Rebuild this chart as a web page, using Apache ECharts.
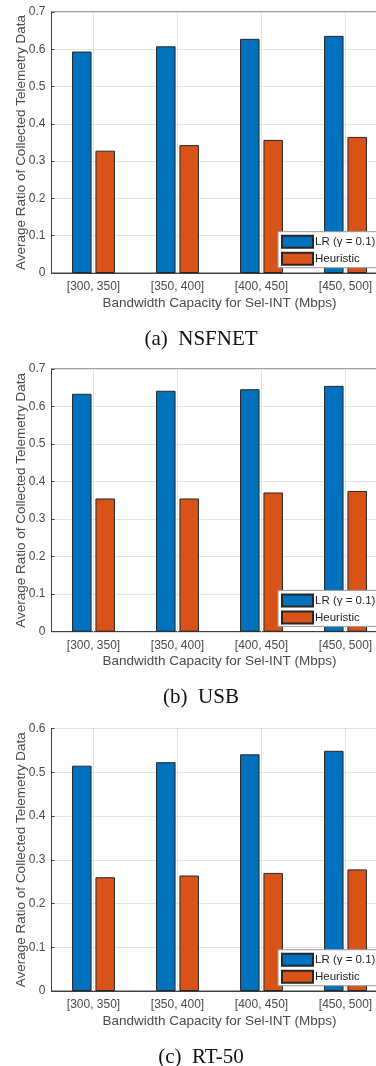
<!DOCTYPE html>
<html>
<head>
<meta charset="utf-8">
<script src="https://cdn.jsdelivr.net/npm/echarts@6/dist/echarts.min.js"></script>
<style>
html,body{margin:0;padding:0;background:#fff;}
#c{width:376px;height:1066px;}
</style>
</head>
<body>
<div id="c"></div>
<script>
const categories = ['[300, 350]', '[350, 400]', '[400, 450]', '[450, 500]'];
const seriesNames = ['LR (\u03b3 = 0.1)', 'Heuristic'];
const nsfnetLR = [0.594, 0.608, 0.628, 0.636];
const nsfnetHeuristic = [0.328, 0.343, 0.357, 0.365];
const usbLR = [0.634, 0.642, 0.646, 0.655];
const usbHeuristic = [0.355, 0.355, 0.371, 0.375];
const rt50LR = [0.515, 0.523, 0.541, 0.549];
const rt50Heuristic = [0.260, 0.264, 0.270, 0.278];
const yMax = [0.7, 0.7, 0.6];
const yInterval = 0.1;
const captions = ['(a)  NSFNET', '(b)  USB', '(c)  RT-50'];
const xTitle = 'Bandwidth Capacity for Sel-INT (Mbps)';
const yTitle = 'Average Ratio of Collected Telemetry Data';

const panels = [
  {lr: nsfnetLR, h: nsfnetHeuristic},
  {lr: usbLR, h: usbHeuristic},
  {lr: rt50LR, h: rt50Heuristic}
];
const gridTops = [12, 369, 728.5];
const gridHeights = [261, 262.7, 262.5];
const captionY = [339, 697, 1057];

const axisColor = '#404040';
const textColor = '#4a4a4a';
const gridColor = '#e3e3e3';
const blue = '#0072BD';
const orange = '#D95319';
const font = '"Liberation Sans", Arial, sans-serif';

const grid = [], xAxis = [], yAxis = [], series = [], legend = [], graphic = [];
panels.forEach((p, i) => {
  grid.push({left: 51.5, width: 336, top: gridTops[i], height: gridHeights[i],
    outerBoundsMode: 'none', containLabel: false,
    show: true, borderColor: axisColor, borderWidth: 1, backgroundColor: 'transparent'});
  xAxis.push({type: 'category', gridIndex: i, data: categories, position: 'bottom',
    axisLine: {show: true, lineStyle: {color: axisColor, width: 1}},
    axisTick: {show: true, inside: true, length: 3, alignWithLabel: true, lineStyle: {color: axisColor}},
    axisLabel: {color: textColor, fontFamily: font, fontSize: 12, margin: 8},
    splitLine: {show: false},
    name: xTitle, nameLocation: 'middle', nameGap: 23, nameMoveOverlap: false,
    nameTextStyle: {color: textColor, fontFamily: font, fontSize: 13.5, verticalAlign: 'top'}
  });
  yAxis.push({type: 'value', gridIndex: i, min: 0, max: yMax[i], interval: yInterval,
    axisLine: {show: true, lineStyle: {color: axisColor, width: 1}},
    axisTick: {show: true, inside: true, length: 3, lineStyle: {color: axisColor}},
    axisLabel: {color: textColor, fontFamily: font, fontSize: 12, margin: 6},
    splitLine: {show: true, lineStyle: {color: gridColor, width: 1}},
    name: yTitle, nameLocation: 'middle', nameGap: 23, nameMoveOverlap: false,
    nameTextStyle: {color: textColor, fontFamily: font, fontSize: 13.5}
  });
  // helper line series (draws nothing itself) carrying vertical grid lines at category centres
  series.push({type: 'line', xAxisIndex: i, yAxisIndex: i, data: categories.map(() => null),
    showSymbol: false, z: 1, silent: true, lineStyle: {opacity: 0},
    markLine: {silent: true, symbol: ['none', 'none'], label: {show: false}, animation: false,
      lineStyle: {color: gridColor, width: 1, type: 'solid'},
      emphasis: {disabled: true},
      data: categories.map(c => ({xAxis: c}))}
  });
  series.push({type: 'bar', name: seriesNames[0], xAxisIndex: i, yAxisIndex: i, data: p.lr,
    barWidth: 19.5, barGap: '20%', z: 3,
    itemStyle: {color: blue, borderColor: '#262626', borderWidth: 1}, silent: true, animation: false});
  series.push({type: 'bar', name: seriesNames[1], xAxisIndex: i, yAxisIndex: i, data: p.h,
    barWidth: 19.5, barGap: '20%', z: 3,
    itemStyle: {color: orange, borderColor: '#262626', borderWidth: 1}, silent: true, animation: false});
  legend.push({data: seriesNames, orient: 'vertical', left: 278,
    top: gridTops[i] + gridHeights[i] - 41.3,
    itemWidth: 31, itemHeight: 12, itemGap: 3, icon: 'rect',
    padding: [3, 6, 2, 3], backgroundColor: '#fff', borderColor: '#9a9a9a', borderWidth: 1,
    borderRadius: 0, selectedMode: false, z: 10,
    textStyle: {color: '#262626', fontFamily: font, fontSize: 11.5, lineHeight: 12, padding: [0, 0, 0, -3]}
  });
  graphic.push({type: 'text', x: 201, y: captionY[i],
    style: {text: captions[i], font: '21px "Liberation Serif", "Times New Roman", serif',
      fill: '#111', textAlign: 'center', textVerticalAlign: 'middle'}});
});
// top tick axes
panels.forEach((p, i) => {
  xAxis.push({type: 'category', gridIndex: i, data: categories, position: 'top',
    axisLine: {show: false},
    axisTick: {show: true, inside: true, length: 3, alignWithLabel: true, lineStyle: {color: axisColor}},
    axisLabel: {show: false}, splitLine: {show: false}});
});

const chart = echarts.init(document.getElementById('c'), null, {renderer: 'canvas'});
chart.setOption({animation: false, backgroundColor: '#fff', grid, xAxis, yAxis, series, legend, graphic});
</script>
</body>
</html>
